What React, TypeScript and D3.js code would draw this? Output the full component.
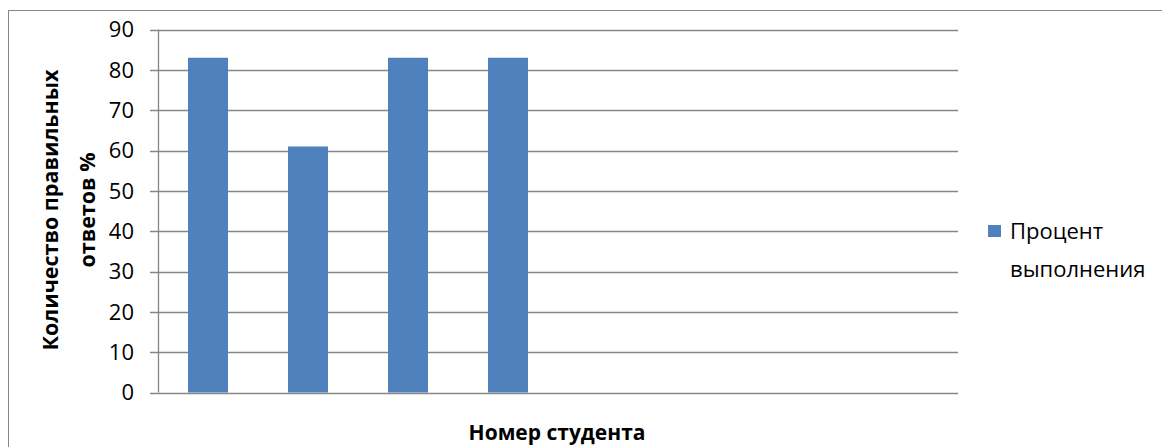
import React from "react";
import * as d3 from "d3";

const categories = ["1", "2", "3", "4", "5", "6", "7", "8"];
const values: (number | null)[] = [83, 61, 83, 83, null, null, null, null];
const yTicks = [0, 10, 20, 30, 40, 50, 60, 70, 80, 90];
const seriesName = ["Процент", "выполнения"];
const yTitle = ["Количество правильных", "ответов %"];
const xTitle = "Номер студента";

const W = 1162;
const H = 447;
const FONT = "'Open Sans', 'Noto Sans', sans-serif";
const GRID = "#868686";
const BAR = "#4f81bd";

export default function App() {
  const x = d3.scaleBand<string>().domain(categories).range([158, 958]).paddingInner(0.6).paddingOuter(0.3);
  const y = d3.scaleLinear().domain([0, 90]).range([392.5, 29.5]);

  return (
    <svg width={W} height={H} style={{ position: "absolute", left: 0, top: 0, background: "#fff" }} fontFamily={FONT}>
      <rect x={8.5} y={10.5} width={1300} height={600} fill="#fff" stroke={GRID} strokeWidth={1} />
      {yTicks.map((t) => (
        <g key={t}>
          <line x1={150} x2={958} y1={Math.round(y(t)) + 0.5} y2={Math.round(y(t)) + 0.5} stroke={GRID} strokeWidth={1.3} />
          <text x={134} y={y(t)} dy="0.35em" textAnchor="end" fontSize={22} fill="#000">{t}</text>
        </g>
      ))}
      <line x1={158.5} x2={158.5} y1={y(90)} y2={y(0)} stroke={GRID} strokeWidth={1.3} />
      {categories.map((c, i) =>
        values[i] == null ? null : (
          <rect key={c} x={x(c)} y={y(values[i] as number)} width={x.bandwidth()} height={y(0) - y(values[i] as number)} fill={BAR} />
        )
      )}
      <text transform="translate(50,210) rotate(-90)" textAnchor="middle" dy="0.35em" fontSize={21.5} fontWeight="bold">{yTitle[0]}</text>
      <text transform="translate(87,210) rotate(-90)" textAnchor="middle" dy="0.35em" fontSize={21.5} fontWeight="bold">{yTitle[1]}</text>
      <text x={557} y={440} textAnchor="middle" fontSize={21} fontWeight="bold">{xTitle}</text>
      <rect x={988} y={225} width={13} height={12} fill={BAR} />
      <text x={1010} y={239} fontSize={22}>{seriesName[0]}</text>
      <text x={1010} y={277} fontSize={22}>{seriesName[1]}</text>
    </svg>
  );
}
